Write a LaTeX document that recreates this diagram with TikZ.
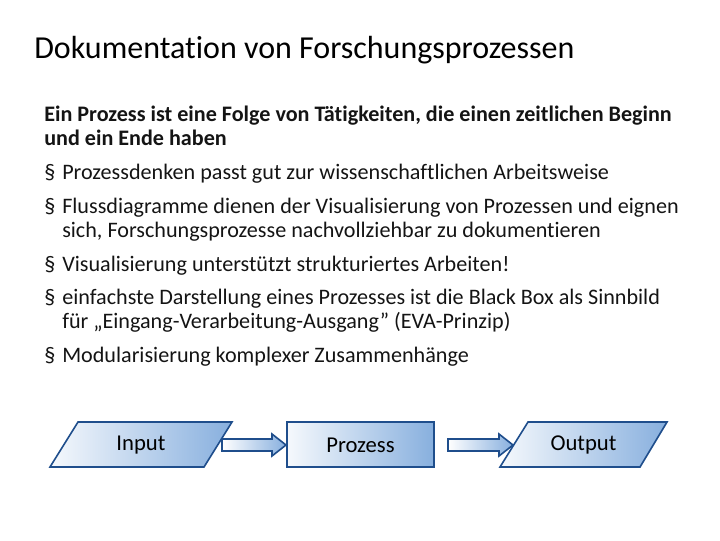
\documentclass[tikz,border=0pt]{standalone}
\usepackage{fontspec}
\setmainfont{Carlito}[Ligatures=NoCommon]
\usetikzlibrary{calc}
\definecolor{bd}{RGB}{31,78,140}
\definecolor{fl}{RGB}{135,175,222}
\definecolor{tx}{RGB}{20,20,20}
\begin{document}
\begin{tikzpicture}[x=0.75pt,y=-0.75pt,
  txt/.style={anchor=base west,inner sep=0pt,font=\fontsize{16.6}{19}\selectfont,text=tx},
  lbl/.style={inner sep=0pt,minimum width=154*0.75pt,minimum height=45*0.75pt,font=\fontsize{17}{19}\selectfont},
  fillst/.style={draw=bd,line width=1.2pt,left color=white!92!fl,right color=fl},
  barrow/.style={draw=bd,line width=1.2pt,left color=white,right color=fl}]
\useasboundingbox (0,0) rectangle (720,540);
\node[anchor=base west,inner sep=0pt,font=\fontsize{24}{28}\selectfont] (title) at (34,58) {Dokumentation von Forschungsprozessen};
\node[txt,font=\bfseries\fontsize{16.6}{19}\selectfont] (l1) at (44,121) {Ein Prozess ist eine Folge von Tätigkeiten, die einen zeitlichen Beginn};
\node[txt,font=\bfseries\fontsize{16.6}{19}\selectfont] (l2) at (44,145) {und ein Ende haben};
\foreach \y/\t [count=\i] in {179/Prozessdenken passt gut zur wissenschaftlichen Arbeitsweise,
  213/Flussdiagramme dienen der Visualisierung von Prozessen und eignen,
  271/Visualisierung unterstützt strukturiertes Arbeiten!,
  304/{einfachste Darstellung eines Prozesses ist die Black Box als Sinnbild},
  362/Modularisierung komplexer Zusammenhänge}
  {\node[txt] (b\i) at (44,\y) {§}; \node[txt] (bt\i) at (62,\y) {\t};}
\node[txt] (c2) at (62,237) {sich, Forschungsprozesse nachvollziehbar zu dokumentieren};
\node[txt] (c4) at (62,328) {für „Eingang-Verarbeitung-Ausgang” (EVA-Prinzip)};
\path[fillst] (50,467) -- (78,422) -- (232,422) -- (204,467) -- cycle;
\path[fillst] (287,422) rectangle (434,467);
\path[fillst] (500,467) -- (528,422) -- (667,422) -- (640,467) -- cycle;
\node[lbl] (in) at (141,445) {Input};
\node[lbl] (pr) at (360.5,445) {Prozess};
\node[lbl] (out) at (583.5,445) {Output};
\foreach \a/\b/\s/\e in {in/pr/222/286, pr/out/448/513}{
  \path[barrow] (\s,439) -- (\e-14,439) -- (\e-14,434) -- (\e,445) -- (\e-14,456) -- (\e-14,451) -- (\s,451) -- cycle;
}
\end{tikzpicture}
\end{document}
